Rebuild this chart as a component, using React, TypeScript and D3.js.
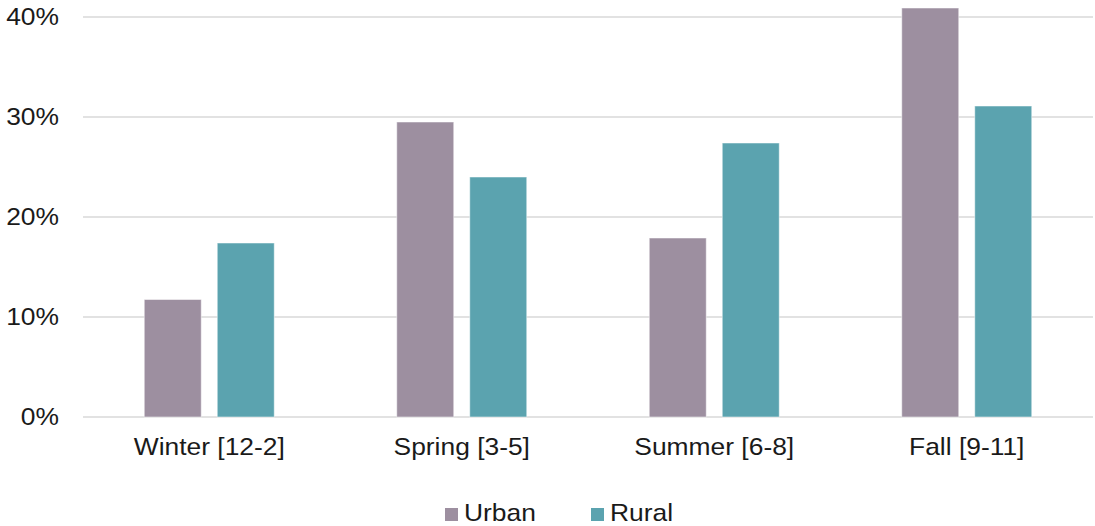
import React from "react";
import * as d3 from "d3";

const categories = ["Winter [12-2]", "Spring [3-5]", "Summer [6-8]", "Fall [9-11]"];
const seriesNames = ["Urban", "Rural"];
const urbanValues = [11.75, 29.5, 17.9, 40.9];
const ruralValues = [17.4, 24.0, 27.4, 31.1];
const yTicks = [0, 10, 20, 30, 40];
const colors = ["#9D8FA0", "#5BA3AF"];

const font = "'Liberation Sans', Arial, sans-serif";

function T({ x, y, anchor = "start", dy, children }: any) {
  return (
    <g transform={`translate(${x},${y}) scale(1.1,1)`}>
      <text x={0} y={0} dy={dy} textAnchor={anchor} fontSize={24} fill="#1a1a1a" fontFamily={font}>{children}</text>
    </g>
  );
}

export default function App() {
  const W = 1095, H = 526;
  const left = 83, right = 1093, top = 17, bottom = 417;
  const x0 = d3.scaleBand().domain(categories).range([left, right]).paddingInner(0).paddingOuter(0);
  const y = d3.scaleLinear().domain([0, 40]).range([bottom, top]);
  const barW = 57, gap = 16;
  const data = [urbanValues, ruralValues];
  return (
    <svg width={W} height={H} style={{ position: "absolute", left: 0, top: 0, background: "#fff" }} fontFamily={font}>
      {yTicks.map((t) => (
        <g key={t}>
          <line x1={left} x2={right} y1={y(t)} y2={y(t)} stroke="#D9D9D9" strokeWidth={1.3} />
          <T x={59} y={y(t)} dy="0.35em" anchor="end">{t}%</T>
        </g>
      ))}
      {categories.map((c, i) => {
        const cx = (x0(c) as number) + x0.bandwidth() / 2;
        return (
          <g key={c}>
            {data.map((vals, s) => {
              const bx = s === 0 ? cx - gap / 2 - barW : cx + gap / 2;
              return (
                <rect key={s} x={bx} y={y(vals[i])} width={barW} height={y(0) - y(vals[i])}
                  fill={colors[s]} stroke="#ffffff" strokeOpacity={0.5} strokeWidth={1} />
              );
            })}
            <T x={cx} y={455} anchor="middle">{c}</T>
          </g>
        );
      })}
      <g>
        <rect x={445} y={508} width={13} height={13} fill={colors[0]} />
        <T x={464} y={521}>{seriesNames[0]}</T>
        <rect x={591} y={508} width={13} height={13} fill={colors[1]} />
        <T x={610} y={521}>{seriesNames[1]}</T>
      </g>
    </svg>
  );
}
